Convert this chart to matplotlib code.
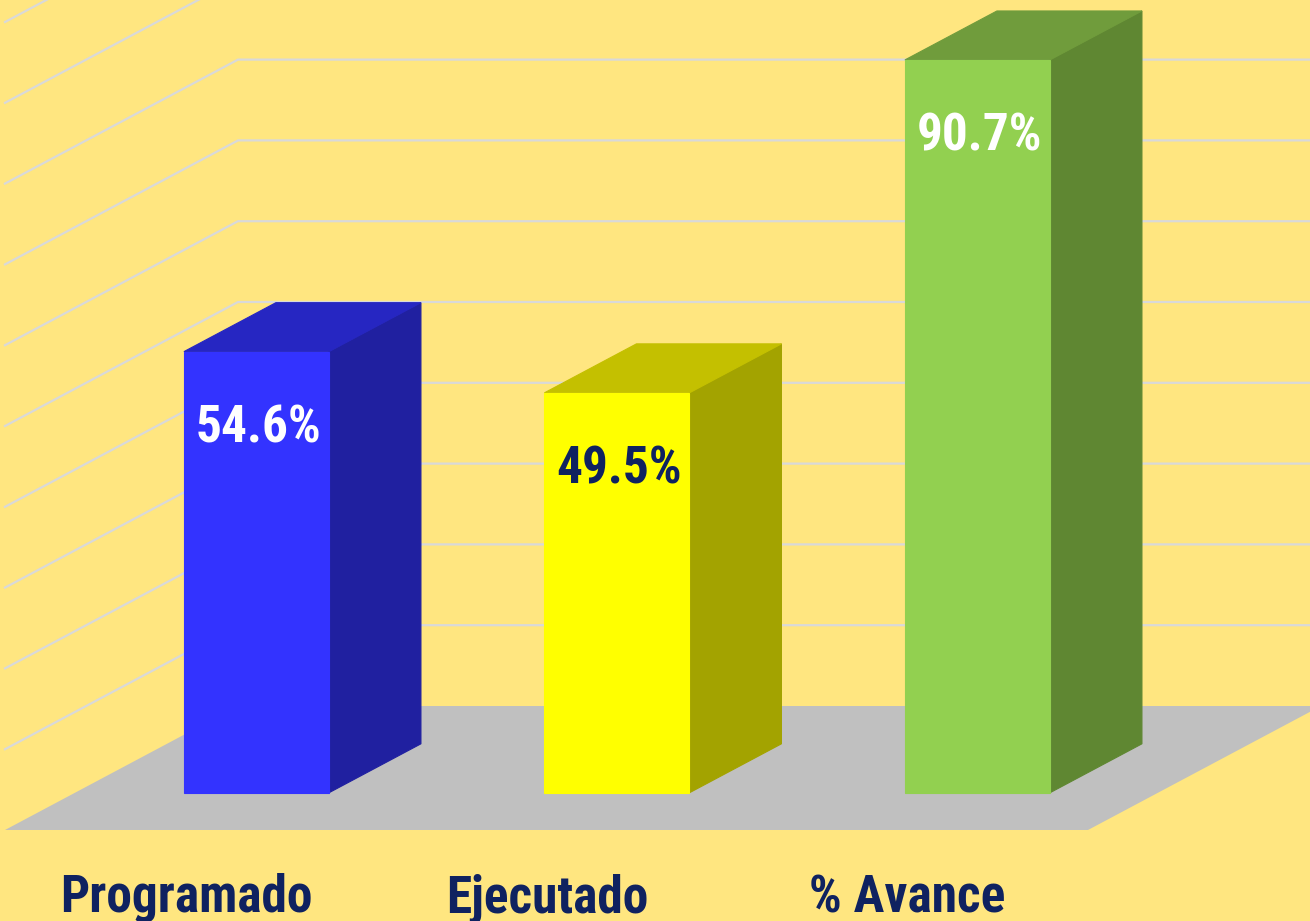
"""
3D-style bar chart: Programado / Ejecutado / % Avance.
Drawn by hand with polygons on a pixel-scaled axes (oblique projection).
"""
import matplotlib
matplotlib.use("Agg")
import matplotlib.pyplot as plt
from matplotlib.patches import Polygon

# ── data ──────────────────────────────────────────────────────────────────────
categories = ["Programado", "Ejecutado", "% Avance"]
values     = [54.6, 49.5, 90.7]
grid_ticks = [10, 20, 30, 40, 50, 60, 70, 80, 90, 100, 110, 120]

front_colors = ["#3333FF", "#FFFF00", "#92D050"]
side_colors  = ["#2020A0", "#A3A300", "#5F8732"]
top_colors   = ["#2626C2", "#C4C000", "#709C3C"]
label_colors = ["white", "#0F2260", "white"]

# ── projection (pixel space) ─────────────────────────────────────────────────
X0, Y0   = 5, 830      # front-left corner of the floor
DX, DY   = 233, 124    # full depth offset (floor front -> back wall)
K        = 8.08        # px per percent
FLOOR_W  = 1083
SLOT     = 360.5
FIRST    = 181.5
HALF_W   = 72.5
D_FRONT, D_BACK = 0.30, 0.695

BG    = "#FFE680"
GRID  = "#D9D9D9"
FLOOR = "#C0C0C0"
NAVY  = "#0F2260"
FONT  = ["Roboto Condensed", "DejaVu Sans"]


def proj(x, v, d):
    return (X0 + x + d * DX, Y0 - v * K - d * DY)


fig = plt.figure(figsize=(13.10, 9.21), dpi=100, facecolor=BG)
ax = fig.add_axes([0, 0, 1, 1])
ax.set_xlim(0, 1310)
ax.set_ylim(921, 0)
ax.axis("off")
ax.set_facecolor(BG)

# walls: gridlines on left wall (diagonal) and back wall (horizontal)
for t in grid_ticks:
    p_front = proj(0, t, 0)
    p_back  = proj(0, t, 1)
    p_right = proj(FLOOR_W, t, 1)
    ax.plot([p_front[0], p_back[0], p_right[0]],
            [p_front[1], p_back[1], p_right[1]],
            color=GRID, lw=1.6, solid_joinstyle="miter", zorder=1)

# floor
floor = [proj(0, 0, 0), proj(FLOOR_W, 0, 0), proj(FLOOR_W, 0, 1), proj(0, 0, 1)]
ax.add_patch(Polygon(floor, closed=True, fc=FLOOR, ec="none", zorder=2))

# bars
for i, (cat, v) in enumerate(zip(categories, values)):
    c  = FIRST + i * SLOT
    xl, xr = c - HALF_W, c + HALF_W
    front = [proj(xl, 0, D_FRONT), proj(xr, 0, D_FRONT),
             proj(xr, v, D_FRONT), proj(xl, v, D_FRONT)]
    side  = [proj(xr, 0, D_FRONT), proj(xr, 0, D_BACK),
             proj(xr, v, D_BACK), proj(xr, v, D_FRONT)]
    top   = [proj(xl, v, D_FRONT), proj(xr, v, D_FRONT),
             proj(xr, v, D_BACK), proj(xl, v, D_BACK)]
    ax.add_patch(Polygon(side, closed=True, fc=side_colors[i], ec=side_colors[i], lw=0.8, zorder=3))
    ax.add_patch(Polygon(top, closed=True, fc=top_colors[i], ec=top_colors[i], lw=0.8, zorder=3))
    ax.add_patch(Polygon(front, closed=True, fc=front_colors[i], ec=front_colors[i], lw=0.8, zorder=4))

    # value label inside the bar, near the top
    lx, ly = proj(c, v, D_FRONT)
    ax.text(lx + 2, ly + 77, f"{v:.1f}%", ha="center", va="center",
            fontsize=37, fontweight="bold", color=label_colors[i],
            family=FONT, zorder=5)

    # category label under the floor
    cx, cy = proj(c, 0, 0)
    ax.text(cx, cy + 82, cat, ha="center", va="baseline",
            fontsize=37, fontweight="bold", color=NAVY, family=FONT, zorder=5)

fig.savefig("out.png", dpi=100, facecolor=BG)
